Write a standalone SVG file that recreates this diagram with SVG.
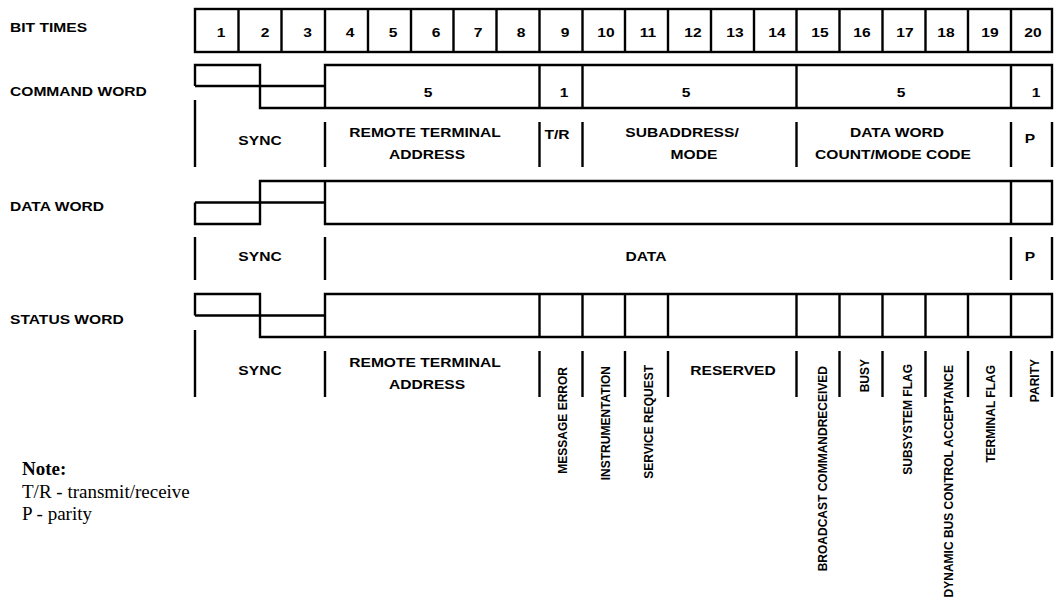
<svg xmlns="http://www.w3.org/2000/svg" width="1054" height="601" viewBox="0 0 1054 601">
<style>
.ln{fill:none;stroke:#000;stroke-width:2.4;stroke-linejoin:miter}
.b{font-family:"Liberation Sans",Arial,sans-serif;font-weight:bold;font-size:12px;fill:#000}
.c{text-anchor:middle}
.v{text-anchor:end}
.n{font-family:"Liberation Serif","Times New Roman",serif;font-size:19px;fill:#000}
</style>
<rect width="1054" height="601" fill="#fff"/>
<g id="row-labels">
<text class="b" transform="translate(10,32) scale(1.3,1)">BIT TIMES</text>
<text class="b" transform="translate(10,96) scale(1.3,1)">COMMAND WORD</text>
<text class="b" transform="translate(10,211) scale(1.3,1)">DATA WORD</text>
<text class="b" transform="translate(10,324) scale(1.3,1)">STATUS WORD</text>
</g>
<g id="bit-times">
<rect class="ln" x="195" y="9" width="857" height="43"/>
<path class="ln" d="M238.5,9V52M281.5,9V52M325,9V52M368,9V52M411,9V52M453.5,9V52M496.5,9V52M539.5,9V52M582.5,9V52M625,9V52M668,9V52M711,9V52M754,9V52M796.5,9V52M839.5,9V52M882.5,9V52M925.5,9V52M968,9V52M1011,9V52"/>
<g class="b c">
<text transform="translate(221,37) scale(1.3,1)">1</text>
<text transform="translate(265,37) scale(1.3,1)">2</text>
<text transform="translate(307.5,37) scale(1.3,1)">3</text>
<text transform="translate(350,37) scale(1.3,1)">4</text>
<text transform="translate(393,37) scale(1.3,1)">5</text>
<text transform="translate(436,37) scale(1.3,1)">6</text>
<text transform="translate(478,37) scale(1.3,1)">7</text>
<text transform="translate(521,37) scale(1.3,1)">8</text>
<text transform="translate(565,37) scale(1.3,1)">9</text>
<text transform="translate(606,37) scale(1.3,1)">10</text>
<text transform="translate(648,37) scale(1.3,1)">11</text>
<text transform="translate(693,37) scale(1.3,1)">12</text>
<text transform="translate(735,37) scale(1.3,1)">13</text>
<text transform="translate(777,37) scale(1.3,1)">14</text>
<text transform="translate(820,37) scale(1.3,1)">15</text>
<text transform="translate(862,37) scale(1.3,1)">16</text>
<text transform="translate(905,37) scale(1.3,1)">17</text>
<text transform="translate(946,37) scale(1.3,1)">18</text>
<text transform="translate(990,37) scale(1.3,1)">19</text>
<text transform="translate(1033,37) scale(1.3,1)">20</text>
</g>
</g>
<g id="command-word">
<path class="ln" d="M195,86V65H260V108H1052V65H325V108M195,86H325M539.5,65V108M582.5,65V108M796.5,65V108M1011,65V108"/>
<path class="ln" d="M195,100V167M325,122V167M539.5,122V167M582.5,122V167M796.5,122V167M1011,122V167M1052,122V167"/>
<g class="b c">
<text transform="translate(428,97) scale(1.3,1)">5</text>
<text transform="translate(564,97) scale(1.3,1)">1</text>
<text transform="translate(686,97) scale(1.3,1)">5</text>
<text transform="translate(901,97) scale(1.3,1)">5</text>
<text transform="translate(1036,97) scale(1.3,1)">1</text>
<text transform="translate(260,145) scale(1.3,1)">SYNC</text>
<text transform="translate(425,137) scale(1.3,1)">REMOTE TERMINAL</text>
<text transform="translate(427,159) scale(1.3,1)">ADDRESS</text>
<text transform="translate(557,139) scale(1.3,1)">T/R</text>
<text transform="translate(682,137) scale(1.3,1)">SUBADDRESS/</text>
<text transform="translate(694,159) scale(1.3,1)">MODE</text>
<text transform="translate(897,137) scale(1.3,1)">DATA WORD</text>
<text transform="translate(893,159) scale(1.3,1)">COUNT/MODE CODE</text>
<text transform="translate(1030,143) scale(1.3,1)">P</text>
</g>
</g>
<g id="data-word">
<path class="ln" d="M195,202.5V224H260V181H1052V224H325V181M195,202.5H325M1011,181V224"/>
<path class="ln" d="M195,237V280M325,237V280M1011,237V280M1052,237V280"/>
<g class="b c">
<text transform="translate(260,261) scale(1.3,1)">SYNC</text>
<text transform="translate(646,261) scale(1.3,1)">DATA</text>
<text transform="translate(1030,261) scale(1.3,1)">P</text>
</g>
</g>
<g id="status-word">
<path class="ln" d="M195,315.5V294H260V337H1052V294H325V337M195,315.5H325M539.5,294V337M582.5,294V337M625,294V337M668,294V337M796.5,294V337M839.5,294V337M882.5,294V337M925.5,294V337M968,294V337M1011,294V337"/>
<path class="ln" d="M195,330V397M325,351V397M539.5,351V397M582.5,351V397M625,351V397M668,351V397M796.5,351V397M839.5,351V397M882.5,351V397M925.5,351V397M968,351V397M1011,351V397M1052,351V397"/>
<g class="b c">
<text transform="translate(260,375) scale(1.3,1)">SYNC</text>
<text transform="translate(425,367) scale(1.3,1)">REMOTE TERMINAL</text>
<text transform="translate(427,389) scale(1.3,1)">ADDRESS</text>
<text transform="translate(733,375) scale(1.3,1)">RESERVED</text>
</g>
<g class="b v">
<text transform="translate(567,367) rotate(-90)">MESSAGE ERROR</text>
<text transform="translate(610,366) rotate(-90)">INSTRUMENTATION</text>
<text transform="translate(653,365) rotate(-90)">SERVICE REQUEST</text>
<text transform="translate(827,366) rotate(-90)">BROADCAST COMMANDRECEIVED</text>
<text transform="translate(869,359) rotate(-90)">BUSY</text>
<text transform="translate(912,364) rotate(-90)">SUBSYSTEM FLAG</text>
<text transform="translate(953,365) rotate(-90)">DYNAMIC BUS CONTROL ACCEPTANCE</text>
<text transform="translate(995,365) rotate(-90)">TERMINAL FLAG</text>
<text transform="translate(1039,359) rotate(-90)">PARITY</text>
</g>
</g>
<g id="note">
<text class="n" x="22" y="475" font-weight="bold">Note:</text>
<text class="n" x="22" y="498">T/R - transmit/receive</text>
<text class="n" x="22" y="520">P - parity</text>
</g>
</svg>
